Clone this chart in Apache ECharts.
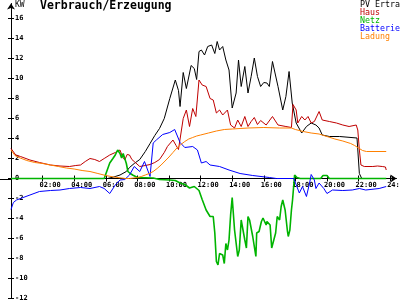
<!DOCTYPE html>
<html>
<head>
<meta charset="utf-8">
<script src="https://cdn.jsdelivr.net/npm/echarts@6/dist/echarts.min.js"></script>
<style>html,body{margin:0;padding:0;background:#fff;}#c{width:400px;height:300px;}</style>
</head>
<body>
<div id="c"></div>
<script>
// ---- data (hour, kW) ----
var seriesNames = ['PV Ertrag', 'Haus', 'Netz', 'Batterie', 'Ladung'];
var hourTicks = [2, 4, 6, 8, 10, 12, 14, 16, 18, 20, 22, 24];
var kwTicks = [-12, -10, -8, -6, -4, -2, 0, 2, 4, 6, 8, 10, 12, 14, 16];

var pvErtrag = [[0,0],[6.1,0],[6.5,0.15],[6.9,0.35],[7.3,0.7],[7.5,1.1],[7.8,1.5],[8.15,1.9],[8.5,2.7],[8.8,3.5],[9.1,4.3],[9.4,5.0],[9.7,6.0],[10.05,8.0],[10.4,9.85],[10.6,8.8],[10.7,7.2],[10.9,10.6],[11.1,9.0],[11.4,11.3],[11.6,11.0],[11.75,9.9],[11.9,12.7],[12.05,12.85],[12.25,12.35],[12.45,13.2],[12.7,13.35],[12.9,12.5],[13.05,13.7],[13.2,12.85],[13.4,13.2],[13.6,11.85],[13.8,10.85],[14.0,7.05],[14.25,8.55],[14.4,11.85],[14.57,9.2],[14.8,11.2],[15.0,8.55],[15.2,10.2],[15.4,12.05],[15.6,10.2],[15.8,9.2],[16.0,9.6],[16.2,9.55],[16.35,9.2],[16.55,11.7],[16.9,9.2],[17.2,6.85],[17.4,8.2],[17.6,10.7],[17.8,7.55],[18.05,5.55],[18.4,4.55],[18.7,5.2],[19.0,5.55],[19.3,5.35],[19.5,5.05],[19.7,4.35],[20.15,4.2],[20.8,4.2],[21.9,4.05],[22.05,0.5],[22.2,0],[23.75,0]];

var haus = [[0,3.0],[0.3,2.35],[0.6,2.2],[1.2,1.85],[1.8,1.6],[2.5,1.35],[3.1,1.25],[3.7,1.2],[4.1,1.3],[4.4,1.35],[4.7,1.7],[5.0,2.0],[5.3,1.9],[5.6,1.7],[5.9,2.0],[6.25,2.35],[6.6,2.6],[6.9,2.85],[7.05,2.2],[7.2,1.85],[7.35,2.4],[7.5,2.35],[7.65,1.9],[7.8,1.7],[8.15,1.2],[8.5,1.3],[8.8,1.4],[9.1,1.6],[9.4,1.9],[9.7,2.6],[9.9,3.2],[10.25,3.85],[10.45,3.3],[10.6,2.9],[10.7,2.7],[10.9,6.0],[11.1,6.85],[11.3,5.2],[11.5,7.0],[11.7,6.2],[11.9,9.85],[12.1,9.35],[12.35,9.2],[12.6,8.0],[12.8,7.85],[13.0,6.55],[13.2,6.85],[13.4,6.35],[13.7,6.85],[13.9,5.35],[14.15,5.05],[14.35,5.85],[14.57,5.2],[14.8,6.2],[15.0,5.2],[15.2,5.7],[15.4,6.1],[15.6,5.4],[15.8,5.8],[16.15,5.35],[16.55,6.2],[16.9,5.35],[17.4,5.2],[17.75,5.1],[17.85,7.4],[18.05,6.85],[18.15,5.55],[18.4,6.2],[18.6,5.85],[18.8,6.2],[19.0,5.55],[19.2,5.7],[19.5,6.7],[19.7,5.85],[20.15,5.7],[20.6,5.55],[21.0,5.35],[21.4,5.2],[21.85,5.35],[21.95,4.85],[22.05,2.85],[22.15,1.35],[22.36,1.2],[22.9,1.2],[23.2,1.25],[23.5,1.2],[23.7,1.15],[23.75,0.85]];

var netz = [[0,0],[5.9,0],[6.0,0.2],[6.25,1.55],[6.45,2.0],[6.6,2.35],[6.75,2.85],[6.9,2.5],[7.0,2.05],[7.1,2.5],[7.2,2.35],[7.3,1.5],[7.4,0.7],[7.55,0.5],[7.7,0.35],[8.0,0.1],[9.0,0.05],[9.4,-0.1],[10.05,-0.15],[10.4,-0.2],[10.7,-0.45],[11.0,-0.6],[11.3,-0.95],[11.6,-0.8],[11.9,-1.2],[12.1,-2.1],[12.35,-3.15],[12.6,-3.8],[12.8,-3.8],[12.9,-5.45],[13.0,-8.3],[13.1,-8.65],[13.2,-7.5],[13.4,-7.65],[13.5,-8.5],[13.6,-6.5],[13.7,-7.15],[13.8,-6.15],[13.9,-3.65],[14.0,-1.9],[14.15,-5.15],[14.35,-7.8],[14.45,-7.15],[14.57,-4.15],[14.65,-4.3],[14.8,-6.15],[14.9,-6.95],[15.0,-3.8],[15.1,-4.15],[15.3,-5.8],[15.5,-7.8],[15.55,-5.45],[15.7,-5.3],[15.85,-4.3],[15.95,-3.95],[16.15,-4.65],[16.2,-4.3],[16.4,-4.65],[16.5,-6.95],[16.6,-6.95],[16.75,-5.45],[16.85,-3.8],[17.0,-4.15],[17.1,-2.8],[17.2,-2.15],[17.35,-3.15],[17.5,-5.3],[17.55,-5.8],[17.65,-5.15],[17.75,-3.15],[17.82,-2.15],[17.95,0.35],[18.1,0.1],[18.3,0],[19.6,0],[19.75,0.3],[20.0,0.3],[20.15,0],[23.75,0]];

var batterie = [[0,-3.1],[0.15,-2.4],[0.35,-2.15],[0.6,-2.0],[1.2,-1.65],[1.8,-1.3],[2.5,-1.2],[3.1,-1.15],[3.7,-1.0],[4.4,-0.9],[5.0,-1.0],[5.6,-0.8],[5.9,-1.0],[6.25,-1.5],[6.6,-0.65],[6.9,-0.15],[7.2,-0.1],[7.5,0.35],[7.8,1.2],[8.15,0.7],[8.45,1.7],[8.8,0.2],[9.0,3.55],[9.2,3.85],[9.6,4.4],[10.05,4.6],[10.36,4.9],[10.46,4.7],[10.7,3.6],[11.0,3.1],[11.5,3.2],[11.8,2.85],[12.05,1.55],[12.35,1.7],[12.6,1.35],[13.2,1.2],[13.8,0.85],[14.5,0.5],[15.3,0.3],[16.35,0.1],[16.8,0],[17.9,0],[18.25,-1.45],[18.45,-0.8],[18.7,-1.8],[18.9,-0.45],[19.0,0.4],[19.2,-0.15],[19.3,-1.0],[19.5,-0.45],[19.8,-1.0],[20.0,-1.5],[20.35,-1.15],[21.0,-1.2],[21.6,-1.15],[22.05,-1.0],[22.45,-1.15],[23.3,-1.0],[23.75,-0.8]];

var ladung = [[0,2.85],[0.25,2.3],[0.5,2.1],[0.75,1.95],[1.0,1.8],[1.5,1.6],[2.0,1.5],[2.5,1.35],[3.0,1.2],[3.5,1.05],[4.0,0.95],[4.5,0.8],[5.0,0.7],[5.5,0.5],[6.0,0.3],[6.5,0.15],[7.0,0.05],[7.25,0],[7.5,0],[7.75,0.05],[8.0,0.1],[8.25,0.2],[8.5,0.35],[8.75,0.5],[9.0,0.7],[9.25,1.0],[9.5,1.35],[9.75,1.75],[10.0,2.15],[10.25,2.6],[10.5,3.05],[10.75,3.4],[11.0,3.7],[11.25,3.95],[11.5,4.1],[11.75,4.25],[12.0,4.35],[12.5,4.55],[13.0,4.75],[13.5,4.9],[14.0,4.95],[14.5,5.0],[15.0,5.05],[16.0,5.1],[17.0,5.05],[17.75,5.05],[18.0,4.9],[18.5,4.7],[19.0,4.55],[19.5,4.45],[20.0,4.2],[20.5,3.95],[21.0,3.75],[21.5,3.5],[21.75,3.3],[22.0,3.05],[22.25,2.8],[22.5,2.7],[23.75,2.7]];

var seriesColors = ['#000000', '#c00000', '#00b400', '#0000ff', '#ff8000'];
var seriesWidths = [1, 1, 1.6, 1, 1];
var seriesData = [pvErtrag, haus, netz, batterie, ladung];

var FONT = 'DejaVu Sans Mono';
var Y_MIN = -12, Y_MAX = 17.5, GRID_TOP = 3.5, GRID_BOTTOM = 1.5, GRID_LEFT = 11;
var chart = echarts.init(document.getElementById('c'), null, {renderer: 'canvas'});
// distance of the zero line above the grid bottom, derived from the axis range
var plotH = 300 - GRID_TOP - GRID_BOTTOM;
var zeroOffset = -plotH * (0 - Y_MIN) / (Y_MAX - Y_MIN);
var zeroY = GRID_TOP + plotH * Y_MAX / (Y_MAX - Y_MIN);

function hourLabel(v) { return '{t|' + (v < 10 ? '0' : '') + v + ':00}'; }

var option = {
  backgroundColor: '#ffffff',
  animation: false,
  title: {
    text: 'Verbrauch/Erzeugung',
    left: 40, top: 0, padding: 0,
    textStyle: {fontFamily: FONT, fontSize: 11.5, fontWeight: 'bold', color: '#000'}
  },
  legend: {
    orient: 'vertical', left: 355, top: 0.5, padding: 0,
    icon: 'none', itemWidth: 0, itemHeight: 7.7, itemGap: 0,
    selectedMode: false,
    textStyle: {fontFamily: FONT, fontSize: 8.3, lineHeight: 7.7},
    data: seriesNames.map(function (n, i) { return {name: n, textStyle: {color: seriesColors[i]}}; })
  },
  graphic: [
    {type: 'text', left: 15, top: 1, style: {text: 'KW', font: '8px "DejaVu Sans Mono"', fill: '#000'}},
    {type: 'line', shape: {x1: 0, y1: Math.round(zeroY) + 0.5, x2: GRID_LEFT, y2: Math.round(zeroY) + 0.5}, style: {stroke: '#000', lineWidth: 1}}
  ],
  grid: {left: GRID_LEFT, right: 3.5, top: GRID_TOP, bottom: GRID_BOTTOM, containLabel: false, outerBoundsMode: 'none'},
  xAxis: [{
    type: 'value', min: 0, max: 24.4, position: 'bottom', offset: zeroOffset,
    axisLine: {show: true, onZero: false, symbol: ['none', 'arrow'], symbolSize: [6, 6], lineStyle: {color: '#000', width: 1}},
    axisTick: {show: true, length: 3, customValues: hourTicks, lineStyle: {color: '#000'}},
    axisLabel: {show: true, customValues: hourTicks, formatter: hourLabel, align: 'center', verticalAlign: 'top', margin: 3,
      hideOverlap: false,
      rich: {t: {fontFamily: FONT, fontSize: 7, fontWeight: 'bold', color: '#000', padding: [0, 0, 0, 15]}}},
    splitLine: {show: false}
  }, {
    type: 'value', min: 0, max: 24.4, position: 'bottom', offset: zeroOffset,
    axisLine: {show: false, onZero: false},
    axisTick: {show: true, inside: true, length: 3, customValues: hourTicks, lineStyle: {color: '#000'}},
    axisLabel: {show: false},
    splitLine: {show: false}
  }],
  yAxis: [{
    type: 'value', min: Y_MIN, max: Y_MAX, position: 'left',
    axisLine: {show: true, onZero: false, symbol: ['none', 'arrow'], symbolSize: [6, 6], lineStyle: {color: '#000', width: 1}},
    axisTick: {show: true, length: 3, customValues: kwTicks, lineStyle: {color: '#000'}},
    axisLabel: {show: true, inside: true, customValues: kwTicks, margin: 4, fontFamily: FONT, fontSize: 7, fontWeight: 'bold', color: '#000'},
    splitLine: {show: false}
  }, {
    type: 'value', min: Y_MIN, max: Y_MAX, position: 'left',
    axisLine: {show: false, onZero: false},
    axisTick: {show: true, inside: true, length: 3, customValues: kwTicks, lineStyle: {color: '#000'}},
    axisLabel: {show: false},
    splitLine: {show: false}
  }],
  series: seriesNames.map(function (n, i) {
    return {
      name: n, type: 'line', xAxisIndex: 0, yAxisIndex: 0,
      data: seriesData[i], showSymbol: false, symbol: 'none', smooth: false,
      lineStyle: {color: seriesColors[i], width: seriesWidths[i]},
      itemStyle: {color: seriesColors[i]},
      z: 2 + i
    };
  })
};
chart.setOption(option);
</script>
</body>
</html>
